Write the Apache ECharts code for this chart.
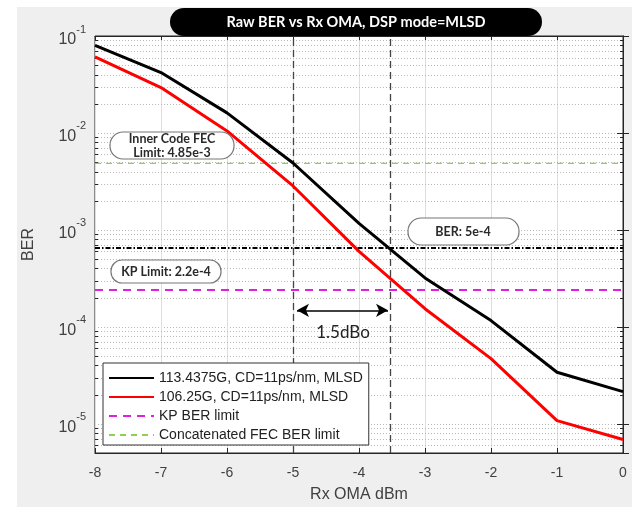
<!DOCTYPE html>
<html>
<head>
<meta charset="utf-8">
<script src="https://cdn.jsdelivr.net/npm/echarts@6/dist/echarts.min.js"></script>
<style>
  html, body { margin: 0; padding: 0; background: #fff; }
  #wrap { position: relative; width: 639px; height: 521px; }
  #bg { position: absolute; left: 17px; top: 7px; width: 615px; height: 500px; background: #efefef; }
  #chart { position: absolute; left: 0; top: 0; width: 639px; height: 521px; }
</style>
</head>
<body>
<div id="wrap">
  <div id="bg"></div>
  <div id="chart"></div>
</div>
<script>
// Rx OMA (dBm)
const xValues = [-8, -7, -6, -5, -4, -3, -2, -1, 0];
// raw BER, 113.4375G
const ber113 = [0.080, 0.042, 0.0161, 0.0049, 0.00117, 3.2e-4, 1.16e-4, 3.4e-5, 2.15e-5];
// raw BER, 106.25G
const ber106 = [0.061, 0.0294, 0.0105, 0.00284, 6.0e-4, 1.54e-4, 4.7e-5, 1.08e-5, 6.9e-6];
// limit lines (as drawn)
const kpLimit = 2.4e-4;
const fecLimit = 4.85e-3;
const berLine = 6.5e-4;
// dashed markers + 1.5 dB arrow
const markX = [-5, -3.52];
const arrowFrom = [-4.94, 1.48e-4];
const arrowTo = [-3.56, 1.48e-4];

const names = [
  '113.4375G, CD=11ps/nm, MLSD',
  '106.25G, CD=11ps/nm, MLSD',
  'KP BER limit',
  'Concatenated FEC BER limit'
];

const yMin = 5e-6, yMax = 0.1;

// minor grid values 2..9 per decade
const minorVals = [];
for (let e = -6; e <= -2; e++) {
  for (let m = 2; m <= 9; m++) {
    const v = m * Math.pow(10, e);
    if (v >= yMin && v <= yMax) minorVals.push(v);
  }
}

const pair = (xs, ys) => xs.map((x, i) => [x, ys[i]]);

const chart = echarts.init(document.getElementById('chart'));

const axisColor = '#262626';
const labelColor = '#404040';
const gridDot = '#b8b8b8';

const option = {
  animation: false,
  textStyle: { fontFamily: 'Liberation Sans, Arial, sans-serif' },
  grid: {
    left: 95, right: 16, top: 36, bottom: 68,
    show: true, backgroundColor: '#fff', borderColor: axisColor, borderWidth: 1
  },
  legend: {
    data: names,
    orient: 'vertical',
    left: 103, top: 363, z: 20,
    itemWidth: 45, itemHeight: 12, itemGap: 5,
    padding: [8, 6, 3, 5],
    backgroundColor: '#fff',
    borderColor: '#333', borderWidth: 1,
    itemStyle: { opacity: 0 },
    textStyle: { fontSize: 14, color: '#222', fontFamily: 'Liberation Sans, Arial, sans-serif' }
  },
  xAxis: [{
    type: 'value', min: -8, max: 0, interval: 1,
    name: 'Rx OMA dBm', nameLocation: 'middle', nameGap: 34,
    nameTextStyle: { fontSize: 16, color: labelColor },
    axisLine: { show: true, lineStyle: { color: axisColor } },
    axisTick: { show: true, inside: true, length: 5, lineStyle: { color: axisColor } },
    axisLabel: { fontSize: 14, color: labelColor, margin: 13 },
    splitLine: { show: true, lineStyle: { color: '#dedede', width: 1 } }
  }, {
    type: 'value', min: -8, max: 0, interval: 1, position: 'top',
    axisLine: { show: true, lineStyle: { color: axisColor } },
    axisTick: { show: true, inside: true, length: 5, lineStyle: { color: axisColor } },
    axisLabel: { show: false },
    splitLine: { show: false }
  }],
  yAxis: [{
    type: 'log', logBase: 10, min: yMin, max: yMax,
    name: 'BER', nameLocation: 'middle', nameGap: 58,
    nameTextStyle: { fontSize: 16, color: labelColor },
    axisLine: { show: true, lineStyle: { color: axisColor } },
    axisTick: { show: true, inside: true, length: 6, lineStyle: { color: axisColor } },
    axisLabel: {
      color: labelColor, margin: 9,
      formatter: function (v) {
        const l = Math.log10(v);
        const e = Math.round(l);
        if (Math.abs(l - e) > 1e-6) return '';
        return '{b|10}{s|' + e + '}';
      },
      rich: {
        b: { fontSize: 16, color: labelColor, verticalAlign: 'bottom', lineHeight: 24 },
        s: { fontSize: 11, color: labelColor, verticalAlign: 'top', lineHeight: 24 }
      }
    },
    splitLine: { show: true, lineStyle: { color: gridDot, type: [1, 2], width: 1 } }
  }, {
    type: 'log', logBase: 10, min: yMin, max: yMax, position: 'right',
    axisLine: { show: true, lineStyle: { color: axisColor } },
    axisTick: { show: true, inside: true, length: 6, lineStyle: { color: axisColor } },
    axisLabel: { show: false },
    splitLine: { show: false }
  }],
  series: [
    {
      // minor log grid + minor ticks
      type: 'custom', silent: true, z: 1,
      data: minorVals.map(v => [-8, v]),
      encode: { x: 0, y: 1 },
      renderItem: function (params, api) {
        const v = api.value(1);
        const p1 = api.coord([-8, v]);
        const p2 = api.coord([0, v]);
        const y = Math.round(p1[1]) + 0.5;
        const tick = { stroke: axisColor, lineWidth: 1 };
        return {
          type: 'group',
          children: [
            { type: 'line', shape: { x1: p1[0], y1: y, x2: p2[0], y2: y },
              style: { stroke: gridDot, lineWidth: 1, lineDash: [1, 2] } },
            { type: 'line', shape: { x1: p1[0], y1: y, x2: p1[0] + 3, y2: y }, style: tick },
            { type: 'line', shape: { x1: p2[0] - 3, y1: y, x2: p2[0], y2: y }, style: tick }
          ]
        };
      }
    },
    {
      name: names[0], type: 'line', data: pair(xValues, ber113),
      symbol: 'none', z: 5,
      itemStyle: { color: '#000' },
      lineStyle: { color: '#000', width: 3 }
    },
    {
      name: names[1], type: 'line', data: pair(xValues, ber106),
      symbol: 'none', z: 5,
      itemStyle: { color: '#ff0000' },
      lineStyle: { color: '#ff0000', width: 3 }
    },
    {
      name: names[2], type: 'line', data: [[-8, kpLimit], [0, kpLimit]],
      symbol: 'none', z: 4,
      itemStyle: { color: '#e020e0' },
      lineStyle: { color: '#e020e0', width: 2, type: [8, 6] }
    },
    {
      name: names[3], type: 'line', data: [[-8, fecLimit], [0, fecLimit]],
      symbol: 'none', z: 4,
      itemStyle: { color: '#8fd14f' },
      lineStyle: { color: '#8fd14f', width: 1.4, type: [6, 5] }
    },
    {
      name: 'BER line', type: 'line', data: [[-8, berLine], [0, berLine]],
      symbol: 'none', z: 4, silent: true,
      lineStyle: { color: '#000', width: 2, type: [5, 2, 1.5, 2] }
    },
    {
      // annotations
      type: 'line', data: [], silent: true, z: 3,
      markLine: {
        silent: true, animation: false,
        symbol: ['none', 'none'],
        label: { show: false },
        data: [
          { xAxis: markX[0], lineStyle: { color: '#444', type: [7, 4], width: 1.3 } },
          { xAxis: markX[1], lineStyle: { color: '#444', type: [7, 4], width: 1.3 } },
          [
            { coord: arrowFrom, symbol: 'arrow', symbolSize: [10, 12], lineStyle: { color: '#000', type: 'solid', width: 1.6 } },
            { coord: arrowTo, symbol: 'arrow', symbolSize: [10, 12] }
          ]
        ]
      }
    }
  ],
  graphic: [
    { type: 'rect', z: 100, shape: { x: 170, y: 8, width: 372, height: 28, r: 14 }, style: { fill: '#000' } },
    { type: 'text', z: 101, style: { text: 'Raw BER vs Rx OMA, DSP mode=MLSD', x: 356, y: 22,
        fill: '#fff', font: 'bold 14.5px Lato, "Open Sans", sans-serif', textAlign: 'center', textVerticalAlign: 'middle' } },

    { type: 'rect', z: 100, shape: { x: 110, y: 132, width: 124, height: 27, r: 13 },
      style: { fill: '#fff', stroke: '#777', lineWidth: 1.2 } },
    { type: 'text', z: 101, style: { text: 'Inner Code FEC\nLimit: 4.85e-3', x: 172, y: 146, lineHeight: 14,
        fill: '#2a2a2a', font: 'bold 12.5px Lato, "Open Sans", sans-serif', textAlign: 'center', textVerticalAlign: 'middle' } },

    { type: 'rect', z: 100, shape: { x: 111, y: 260, width: 110, height: 23, r: 11 },
      style: { fill: '#fff', stroke: '#777', lineWidth: 1.2 } },
    { type: 'text', z: 101, style: { text: 'KP Limit: 2.2e-4', x: 166, y: 272,
        fill: '#2a2a2a', font: 'bold 12.5px Lato, "Open Sans", sans-serif', textAlign: 'center', textVerticalAlign: 'middle' } },

    { type: 'rect', z: 100, shape: { x: 408, y: 218, width: 111, height: 27, r: 13 },
      style: { fill: '#fff', stroke: '#777', lineWidth: 1.2 } },
    { type: 'text', z: 101, style: { text: 'BER: 5e-4', x: 463, y: 232,
        fill: '#2a2a2a', font: 'bold 12.5px Lato, "Open Sans", sans-serif', textAlign: 'center', textVerticalAlign: 'middle' } },

    { type: 'text', z: 101, style: { text: '1.5dBo', x: 343, y: 333,
        fill: '#222', font: '17px Lato, "Open Sans", sans-serif', textAlign: 'center', textVerticalAlign: 'middle' } }
  ]
};

chart.setOption(option);
window.addEventListener('resize', function () {
  chart.resize();
});
</script>
</body>
</html>
